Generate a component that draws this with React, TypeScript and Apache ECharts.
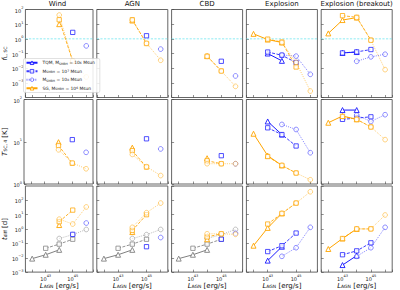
import React, { useEffect, useRef } from 'react';
import * as echarts from 'echarts';

const FONT = '"DejaVu Sans", sans-serif';
const n = null;

// Luminosity grid: log10 L_AGN [erg/s]
const lumExp = [42, 43, 44, 45, 46];
const lumRange = [41.5, 46.5];
const panelTitles = ['Wind', 'AGN', 'CBD', 'Explosion', 'Explosion (breakout)'];
const massExp = [6, 7, 8];

// log10 f_L,SC — per panel: rows M_SMBH = 1e6, 1e7, 1e8; columns follow lumExp
const fTQM = [
  [[n, n, n, n, n], [n, n, n, 0.44, n], [n, n, n, n, -0.48]],
  [[n, n, n, n, n], [n, n, n, 0.21, n], [n, n, n, n, -0.7]],
  [[n, n, n, n, n], [n, n, n, -1.53, n], [n, n, n, n, -2.53]],
  [[n, -1.0, -1.5, n, n], [n, -0.9, -1.12, -1.62, n], [n, n, -1.1, -1.18, -2.42]],
  [[n, -0.96, -0.9, n, n], [n, -0.96, -0.89, -0.73, n], [n, n, -1.53, -1.23, -1.05]],
];
const fSG = [
  [[n, n, 1.0, n, n], [n, n, 1.3, -1.53, n], [n, n, 1.62, -1.5, -2.6]],
  [[n, n, 1.25, n, n], [n, n, 1.3, -0.32, n], [n, n, 1.28, -0.3, -1.46]],
  [[n, n, -1.18, n, n], [n, n, -1.18, -2.19, n], [n, n, -1.2, -2.2, -3.24]],
  [[0.34, -0.05, -0.25, n, n], [n, -0.02, -0.22, -1.92, n], [n, n, -0.25, -1.6, -3.56]],
  [[0.37, 1.28, 1.45, n, n], [n, 1.58, 1.47, -0.09, n], [n, n, 1.45, -0.1, -2.1]],
];

// log10 T_SC,4 [1e4 K]
const tTQM = [
  [[n, n, n, n, n], [n, n, n, 1.05, n], [n, n, n, n, 0.75]],
  [[n, n, n, n, n], [n, n, n, 1.07, n], [n, n, n, n, 0.83]],
  [[n, n, n, n, n], [n, n, n, 0.67, n], [n, n, n, n, 0.48]],
  [[n, 1.48, 1.17, n, n], [n, 1.33, 1.17, 0.9, n], [n, n, 1.41, 1.29, 0.74]],
  [[n, 1.75, 1.75, n, n], [n, 1.53, 1.56, 1.59, n], [n, n, 1.63, 1.48, 1.64]],
];
const tSG = [
  [[n, n, 0.99, n, n], [n, n, 0.91, 0.49, n], [n, n, 0.81, 0.5, 0.36]],
  [[n, n, 0.86, n, n], [n, n, 0.79, 0.4, n], [n, n, 0.7, 0.41, 0.2]],
  [[n, n, 0.61, n, n], [n, n, 0.55, 0.48, n], [n, n, 0.48, 0.48, 0.48]],
  [[1.19, 0.67, 0.44, n, n], [n, 0.65, 0.44, 0.26, n], [n, n, 0.44, 0.26, 0.1]],
  [[1.45, 1.61, 1.53, n, n], [n, 1.6, 1.53, 1.35, n], [n, n, 1.53, 1.35, 1.05]],
];

// log10 t_diff [d]
const dTQM = [
  [[n, n, n, n, n], [n, n, n, -0.37, n], [n, n, n, n, 0.42]],
  [[n, n, n, n, n], [n, n, n, -1.23, n], [n, n, n, n, -0.59]],
  [[n, n, n, n, n], [n, n, n, -0.71, n], [n, n, n, n, -0.3]],
  [[n, -2.2, -1.23, n, n], [n, -1.57, -1.16, -0.28, n], [n, n, -1.9, -1.3, 0.12]],
  [[n, -2.51, -1.85, n, n], [n, -1.79, -1.52, -0.96, n], [n, n, -1.9, -1.3, 0.12]],
];
const dSG = [
  [[n, n, 0.28, n, n], [n, n, 0.51, 1.32, n], [n, n, 0.69, 0.35, 1.54]],
  [[n, n, -0.21, n, n], [n, n, -0.1, 1.0, n], [n, n, 0.12, 1.14, 1.81]],
  [[n, n, -0.71, n, n], [n, n, -0.55, -0.33, n], [n, n, -0.33, -0.33, -0.37]],
  [[-1.16, 0.08, 1.09, n, n], [n, 0.35, 1.09, 1.81, n], [n, n, 1.09, 1.81, 2.6]],
  [[-1.39, -0.66, 0.01, n, n], [n, -0.66, 0.01, 0.01, n], [n, n, 0.01, 0.01, 0.98]],
];
// grey reference curves in the first three t_diff panels
const dRef = [[-2.06, -1.79, -1.45, n, n], [n, -1.34, -1.05, -0.71, n], [n, n, -0.66, -0.39, -0.03]];
const refPanels = [0, 1, 2];

// unity line in the f_L,SC row
const fUnity = 1;

const COLORS = { TQM: '#1a1aff', SG: '#ffa500', ref: '#808080' };
const UNITY_COLOR = '#5ee4ee';
const MASS_STYLE = [
  { symbol: 'triangle', size: 5, dash: 'solid' as any, alpha: 1 },
  { symbol: 'rect', size: 4.3, dash: [3, 1.5] as any, alpha: 0.85 },
  { symbol: 'circle', size: 4.7, dash: [1, 1.2] as any, alpha: 0.55 },
];

const tickRich = {
  b: { fontSize: 5, fontFamily: FONT, color: '#222', lineHeight: 7, verticalAlign: 'bottom' },
  s: { fontSize: 3.5, fontFamily: FONT, color: '#222', lineHeight: 4, verticalAlign: 'top' },
};
const nameRich = {
  i: { fontSize: 7, fontFamily: FONT, fontStyle: 'italic', color: '#111', lineHeight: 9, verticalAlign: 'bottom' },
  r: { fontSize: 7, fontFamily: FONT, color: '#111', lineHeight: 9, verticalAlign: 'bottom' },
  sub: { fontSize: 4.5, fontFamily: FONT, color: '#111', lineHeight: 5, verticalAlign: 'bottom' },
};
const legendRich = {
  sub: { fontSize: 3, fontFamily: FONT, color: '#222', verticalAlign: 'bottom', lineHeight: 4 },
  sup: { fontSize: 3, fontFamily: FONT, color: '#222', verticalAlign: 'top', lineHeight: 4 },
};

const expText = (e: number) => (e < 0 ? '\u2212' + -e : String(e));

function seriesName(model: string, m: number) {
  if (model === 'TQM') return m === 0 ? 'TQM, M_SMBH = 10^6 Msun' : `M_SMBH = 10^${massExp[m]} Msun`;
  if (model === 'SG') return m === 0 ? 'SG, M_SMBH = 10^6 Msun' : `SG 10^${massExp[m]}`;
  return `ref 10^${massExp[m]}`;
}
const legendNames = [seriesName('TQM', 0), seriesName('TQM', 1), seriesName('TQM', 2), seriesName('SG', 0)];
const legendLabels: Record<string, string> = {
  [legendNames[0]]: 'TQM, M{sub|SMBH} = 10{sup|6} Msun',
  [legendNames[1]]: 'M{sub|SMBH} = 10{sup|7} Msun',
  [legendNames[2]]: 'M{sub|SMBH} = 10{sup|8} Msun',
  [legendNames[3]]: 'SG, M{sub|SMBH} = 10{sup|6} Msun',
};

function buildOption() {
  const rows = [
    { tqm: fTQM, sg: fSG, min: -4, max: 2, top: 9.5, height: 88, name: '{i|f}{sub|L, SC}', hideMin: true, hideMax: false },
    { tqm: tTQM, sg: tSG, min: 0, max: 2, top: 99.5, height: 84.5, name: '{i|T}{sub|SC, 4}{r| [K]}', hideMin: false, hideMax: false },
    { tqm: dTQM, sg: dSG, min: -3, max: 3, top: 186, height: 87.5, name: '{i|t}{sub|diff}{r| [d]}', hideMin: false, hideMax: true },
  ];
  const colLeft = (c: number) => 22 + 74.8 * c;
  const colWidth = 71;
  const xMin = Math.pow(10, lumRange[0]);
  const xMax = Math.pow(10, lumRange[1]);

  const grid: any[] = [];
  const xAxis: any[] = [];
  const yAxis: any[] = [];
  const series: any[] = [];

  const tick = { inside: true, length: 2.5, lineStyle: { color: '#444', width: 0.6 } };

  rows.forEach((row, r) => {
    panelTitles.forEach((_, c) => {
      const idx = r * 5 + c;
      grid.push({
        left: colLeft(c), top: row.top, width: colWidth, height: row.height,
        show: true, borderColor: '#666', borderWidth: 1, backgroundColor: 'transparent',
      });
      xAxis.push({
        type: 'log', logBase: 10, gridIndex: idx, min: xMin, max: xMax,
        axisLine: { show: false }, axisTick: tick, splitLine: { show: false },
        axisLabel: {
          show: r === 2, margin: 2, rich: tickRich,
          formatter: (v: number) => {
            const l = Math.log10(v);
            const e = Math.round(l);
            if (Math.abs(l - e) > 0.01 || e % 2 === 0) return '';
            return `{b|10}{s|${expText(e)}}`;
          },
        },
        name: r === 2 ? '{i|L}{sub|AGN}{r| [erg/s]}' : '',
        nameLocation: 'middle', nameGap: 7,
        nameTextStyle: { rich: nameRich },
      });
      yAxis.push({
        type: 'log', logBase: 10, gridIndex: idx,
        min: Math.pow(10, row.min), max: Math.pow(10, row.max),
        axisLine: { show: false }, axisTick: tick, splitLine: { show: false },
        axisLabel: {
          show: c === 0, margin: 2, rich: tickRich,
          showMinLabel: !row.hideMin, showMaxLabel: !row.hideMax,
          formatter: (v: number) => `{b|10}{s|${expText(Math.round(Math.log10(v)))}}`,
        },
        name: c === 0 ? row.name : '',
        nameLocation: 'middle', nameGap: 16, nameRotate: 90,
        nameTextStyle: { rich: nameRich },
      });

      if (r === 0) {
        // horizontal f = 1 guide spanning the whole axis
        series.push({
          type: 'line', name: 'unity', xAxisIndex: idx, yAxisIndex: idx,
          data: [[xMin, fUnity], [xMax, fUnity]],
          symbol: 'none', silent: true,
          lineStyle: { color: UNITY_COLOR, width: 0.7, type: [2.2, 1.4], opacity: 1 },
          itemStyle: { color: UNITY_COLOR },
          emphasis: { disabled: true },
          z: 1,
        });
      }

      const models: [string, (number | null)[][]][] = [
        ['TQM', row.tqm[c]],
        ['SG', row.sg[c]],
      ];
      if (r === 2 && refPanels.includes(c)) models.unshift(['ref', dRef]);

      models.forEach(([model, sets]) => {
        sets.forEach((vals, m) => {
          const st = MASS_STYLE[m];
          const color = (COLORS as any)[model];
          const data = vals
            .map((v, k) => (v == null ? null : [Math.pow(10, lumExp[k]), Math.pow(10, v)]))
            .filter((d) => d !== null);
          series.push({
            type: 'line', name: seriesName(model, m),
            xAxisIndex: idx, yAxisIndex: idx, data,
            symbol: st.symbol, symbolSize: st.size, showSymbol: true,
            lineStyle: { color, width: 1, type: st.dash, opacity: st.alpha },
            itemStyle: { color: '#fff', borderColor: color, borderWidth: 0.9, opacity: st.alpha },
            emphasis: { disabled: true },
            z: model === 'ref' ? 2 : 3,
          });
        });
      });
    });
  });

  const graphic = panelTitles.map((t, c) => ({
    type: 'text', x: colLeft(c) + colWidth / 2, y: 0.5,
    style: { text: t, fill: '#111', fontSize: 7, fontFamily: FONT, align: 'center', verticalAlign: 'top' },
  }));

  return {
    animation: false,
    backgroundColor: '#fff',
    textStyle: { fontFamily: FONT },
    grid, xAxis, yAxis, series, graphic,
    legend: {
      data: legendNames,
      orient: 'vertical', left: 23.5, top: 58.5,
      itemWidth: 11, itemHeight: 4.5, itemGap: 4,
      padding: [2, 5, 2, 2],
      backgroundColor: 'rgba(255,255,255,0.85)',
      borderColor: '#ccc', borderWidth: 0.6, borderRadius: 1.5,
      selectedMode: false,
      itemStyle: { color: '#fff', borderWidth: 0.9 },
      textStyle: { fontSize: 4.4, fontFamily: FONT, color: '#222', rich: legendRich },
      formatter: (name: string) => legendLabels[name] ?? name,
    },
  };
}

export default function App() {
  const ref = useRef<HTMLDivElement>(null);
  useEffect(() => {
    const chart = echarts.init(ref.current!, null, { renderer: 'svg' });
    chart.setOption(buildOption() as any);
    return () => chart.dispose();
  }, []);
  return <div ref={ref} style={{ position: 'absolute', left: 0, top: 0, width: 400, height: 290 }} />;
}
